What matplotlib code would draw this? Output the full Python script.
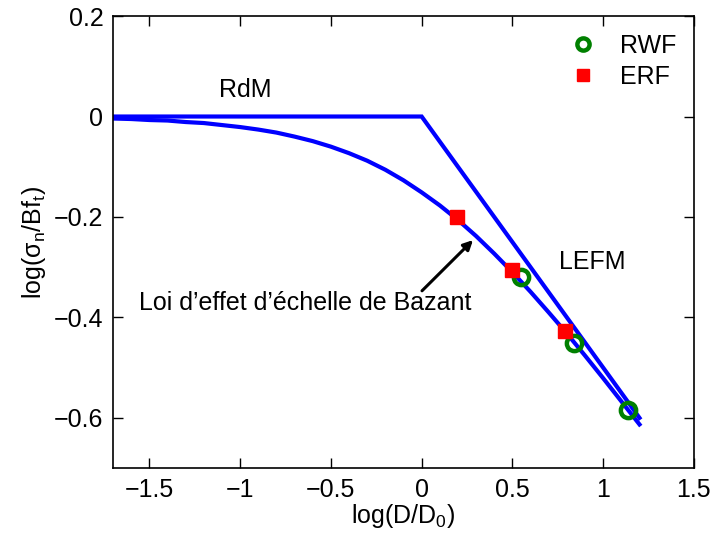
import numpy as np
import matplotlib.pyplot as plt

plt.rcParams['font.family'] = ['Liberation Sans', 'DejaVu Sans']
plt.rcParams['mathtext.default'] = 'regular'

# RdM plateau + LEFM asymptote
lefm_x = [-1.7, 0.0, 1.2]
lefm_y = [0.0, 0.0, -0.6]

# Bazant size effect curve
baz_x = [-1.7, -1.6, -1.5, -1.4, -1.3, -1.2, -1.1, -1.0, -0.9, -0.8, -0.7, -0.6,
         -0.5, -0.4, -0.3, -0.2, -0.1, 0.0, 0.1, 0.2, 0.3, 0.4, 0.5, 0.6, 0.7,
         0.8, 0.9, 1.0, 1.1, 1.2]
baz_y = [-0.004, -0.005, -0.007, -0.008, -0.011, -0.013, -0.017, -0.021, -0.026,
         -0.032, -0.040, -0.049, -0.060, -0.073, -0.088, -0.106, -0.127, -0.151,
         -0.177, -0.206, -0.238, -0.273, -0.310, -0.349, -0.390, -0.432, -0.476,
         -0.521, -0.567, -0.613]

# measured points
rwf_x = [0.547, 0.84, 1.137]
rwf_y = [-0.319, -0.451, -0.584]
erf_x = [0.194, 0.498, 0.79]
erf_y = [-0.200, -0.305, -0.427]

fig = plt.figure(figsize=(7.11, 5.35), dpi=100)
ax = fig.add_axes([0.159, 0.125, 0.817, 0.845])

ax.plot(lefm_x, lefm_y, color='#0000ff', lw=3, solid_joinstyle='miter')
ax.plot(baz_x, baz_y, color='#0000ff', lw=3)
ax.plot(rwf_x, rwf_y, 'o', mec='#008000', mfc='none', mew=3.2, ms=11, label='RWF')
ax.plot(erf_x, erf_y, 's', mec='#ff0000', mfc='#ff0000', ms=10, label='ERF')

fs = 18
ax.text(-0.97, 0.053, 'RdM', fontsize=fs, ha='center', va='center')
ax.text(0.94, -0.29, 'LEFM', fontsize=fs, ha='center', va='center')
ax.text(-0.64, -0.372, 'Loi d\u2019effet d\u2019\u00e9chelle de Bazant',
        fontsize=fs, ha='center', va='center')
ax.annotate('', xy=(0.283, -0.246), xytext=(0.002, -0.347),
            arrowprops=dict(arrowstyle='-|>', color='black', lw=2.2,
                            mutation_scale=14, shrinkA=0, shrinkB=0))

ax.set_xlim(-1.7, 1.5)
ax.set_ylim(-0.7, 0.2)
ax.set_xticks([-1.5, -1, -0.5, 0, 0.5, 1, 1.5])
ax.set_xticklabels(['\u22121.5', '\u22121', '\u22120.5', '0', '0.5', '1', '1.5'])
ax.set_yticks([-0.6, -0.4, -0.2, 0, 0.2])
ax.set_yticklabels(['\u22120.6', '\u22120.4', '\u22120.2', '0', '0.2'])
ax.tick_params(direction='in', length=7, width=1, labelsize=fs,
               top=True, right=True, pad=7)
for s in ax.spines.values():
    s.set_linewidth(1.2)

ax.set_xlabel('log(D/D$_0$)', fontsize=fs, labelpad=0)
ax.set_ylabel('log(\u03c3$_n$/Bf$_t$)', fontsize=fs, labelpad=4)

ax.legend(loc='upper right', frameon=False, fontsize=fs, handletextpad=0.5,
          borderaxespad=0.3, labelspacing=0.3, markerscale=0.8)

fig.savefig('out.png', dpi=100)
